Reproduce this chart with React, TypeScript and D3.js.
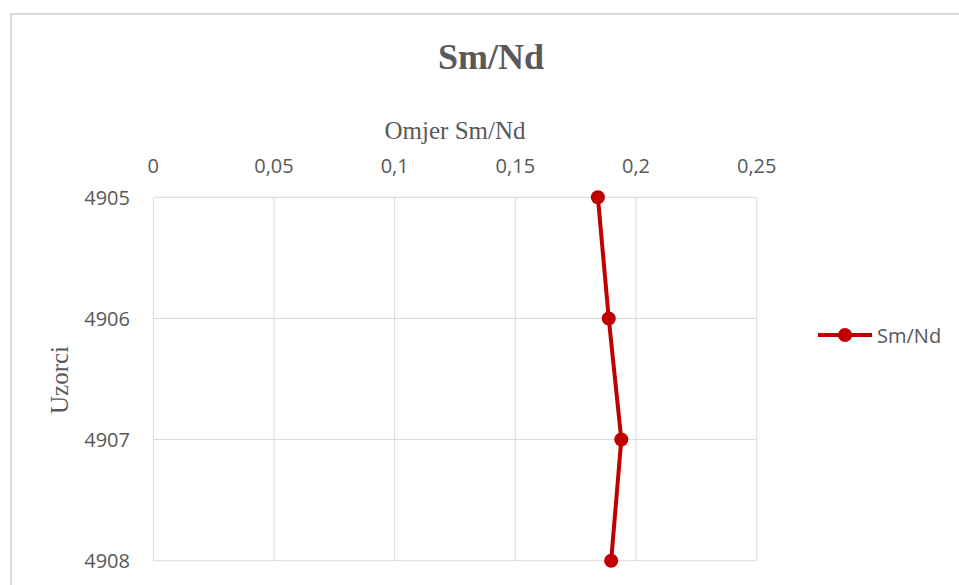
import React from "react";
import * as d3 from "d3";

const categories = ["4905", "4906", "4907", "4908"];
const values = [0.1842, 0.1887, 0.1939, 0.1897];
const xTicks = [0, 0.05, 0.1, 0.15, 0.2, 0.25];
const title = "Sm/Nd";
const xTitle = "Omjer Sm/Nd";
const yTitle = "Uzorci";
const seriesName = "Sm/Nd";

export default function App() {
  const W = 959, H = 585;
  const left = 153.3, right = 756.7, top = 197.3, bottom = 560.7;
  const x = d3.scaleLinear().domain([0, 0.25]).range([left, right]);
  const y = d3.scalePoint<string>().domain(categories).range([top, bottom]);
  const line = d3.line<number>().x((d) => x(d)).y((_, i) => y(categories[i])!);
  const red = "#C00000";
  const grey = "#595959";
  const sans = "'Open Sans', sans-serif";
  const serif = "'Liberation Serif', serif";
  const fmt = (v: number) => String(v).replace(".", ",");
  return (
    <svg width={W} height={H} style={{ position: "absolute", left: 0, top: 0 }}>
      <rect x={0} y={0} width={W} height={H} fill="#fff" />
      <rect x={11} y={14} width={W + 10} height={H + 10} fill="#fff" stroke="#d9d9d9" strokeWidth={2} />
      {xTicks.map((t) => (
        <line key={"g" + t} x1={x(t)} x2={x(t)} y1={top} y2={bottom} stroke="#d9d9d9" strokeWidth={1} />
      ))}
      {categories.map((c) => (
        <line key={"h" + c} x1={left} x2={right} y1={y(c)} y2={y(c)} stroke="#d9d9d9" strokeWidth={1} />
      ))}
      {xTicks.map((t) => (
        <text key={"t" + t} x={x(t)} y={165} textAnchor="middle" dominantBaseline="central"
          fontFamily={sans} fontSize={20} fill={grey}>{fmt(t)}</text>
      ))}
      {categories.map((c) => (
        <text key={"c" + c} x={130} y={y(c)} textAnchor="end" dominantBaseline="central"
          fontFamily={sans} fontSize={20} fill={grey}>{c}</text>
      ))}
      <text x={491} y={57} textAnchor="middle" dominantBaseline="central" fontFamily={serif}
        fontWeight="bold" fontSize={36} fill={grey}>{title}</text>
      <text x={455} y={130} textAnchor="middle" dominantBaseline="central" fontFamily={serif}
        fontSize={25} fill={grey}>{xTitle}</text>
      <text transform={`translate(59,380) rotate(-90)`} textAnchor="middle" dominantBaseline="central"
        fontFamily={serif} fontSize={25} fill={grey}>{yTitle}</text>
      <path d={line(values) || ""} fill="none" stroke={red} strokeWidth={4} strokeLinejoin="round" />
      {values.map((v, i) => (
        <circle key={"p" + i} cx={x(v)} cy={y(categories[i])} r={7} fill={red} />
      ))}
      <line x1={818} x2={872} y1={335} y2={335} stroke={red} strokeWidth={4} />
      <circle cx={845} cy={335} r={7} fill={red} />
      <text x={877} y={335} dominantBaseline="central" fontFamily={sans} fontSize={20} fill={grey}>{seriesName}</text>
    </svg>
  );
}
